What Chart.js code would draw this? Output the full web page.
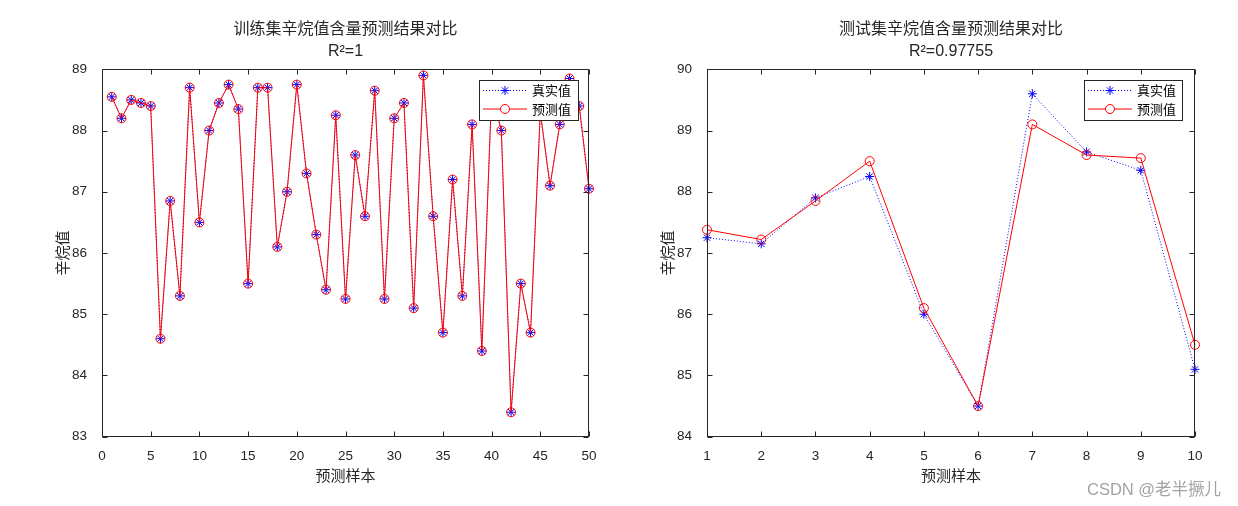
<!DOCTYPE html>
<html><head><meta charset="utf-8">
<script src="https://cdn.jsdelivr.net/npm/chart.js@4"></script>
<style>
html,body{margin:0;padding:0;background:#fff;}
#wrap{position:relative;width:1238px;height:506px;overflow:hidden;background:#fff;}
.box{position:absolute;top:0;width:619px;height:506px;}
</style></head><body>
<div id="wrap">
<div class="box" style="left:0"><canvas id="c1" width="619" height="506"></canvas></div>
<div class="box" style="left:619px"><canvas id="c2" width="619" height="506"></canvas></div>
</div>
<script>
// ---- data ----
const trainIdx = [1,2,3,4,5,6,7,8,9,10,11,12,13,14,15,16,17,18,19,20,21,22,23,24,25,26,27,28,29,30,31,32,33,34,35,36,37,38,39,40,41,42,43,44,45,46,47,48,49,50];
const trainTrue = [88.55,88.2,88.5,88.45,88.4,84.6,86.85,85.3,88.7,86.5,88.0,88.45,88.75,88.35,85.5,88.7,88.7,86.1,87.0,88.75,87.3,86.3,85.4,88.25,85.25,87.6,86.6,88.65,85.25,88.2,88.45,85.1,88.9,86.6,84.7,87.2,85.3,88.1,84.4,88.6,88.0,83.4,85.5,84.7,88.3,87.1,88.1,88.85,88.4,87.05];
const trainPred = [88.55,88.2,88.5,88.45,88.4,84.6,86.85,85.3,88.7,86.5,88.0,88.45,88.75,88.35,85.5,88.7,88.7,86.1,87.0,88.75,87.3,86.3,85.4,88.25,85.25,87.6,86.6,88.65,85.25,88.2,88.45,85.1,88.9,86.6,84.7,87.2,85.3,88.1,84.4,88.6,88.0,83.4,85.5,84.7,88.3,87.1,88.1,88.85,88.4,87.05];
const testIdx = [1,2,3,4,5,6,7,8,9,10];
const testTrue = [87.25,87.15,87.9,88.25,86.0,84.5,89.6,88.65,88.35,85.1];
const testPred = [87.38,87.22,87.85,88.5,86.1,84.5,89.1,88.6,88.55,85.5];
const seriesNames = ['真实值','预测值'];
const trainTitle = ['训练集辛烷值含量预测结果对比','R²=1'];
const testTitle = ['测试集辛烷值含量预测结果对比','R²=0.97755'];
const xLabel = '预测样本';
const yLabel = '辛烷值';
const watermark = 'CSDN @老半撅儿';

const FONT = "'Liberation Sans','Noto Sans CJK SC',sans-serif";
const AX = '#262626';
Chart.defaults.font.family = FONT;
Chart.defaults.color = AX;

function drawStar(ctx, x, y, r){
  const d = r*Math.SQRT1_2;
  ctx.beginPath();
  ctx.moveTo(x, y-r); ctx.lineTo(x, y+r);
  ctx.moveTo(x-r, y); ctx.lineTo(x+r, y);
  ctx.moveTo(x-d, y-d); ctx.lineTo(x+d, y+d);
  ctx.moveTo(x-d, y+d); ctx.lineTo(x+d, y-d);
  ctx.stroke();
}

const matlabAxes = {
  id: 'matlabAxes',
  afterDatasetsDraw(chart, args, opts){
    const {ctx, chartArea: a} = chart;
    const xs = chart.scales.x, ys = chart.scales.y;
    ctx.save();
    ctx.strokeStyle = AX; ctx.lineWidth = 1; ctx.setLineDash([]);
    const L = Math.round(a.left)+0.5, R = Math.round(a.right)-0.5, T = Math.round(a.top)+0.5, B = Math.round(a.bottom)-0.5;
    ctx.beginPath();
    xs.ticks.forEach(t => {
      const p = Math.round(xs.getPixelForValue(t.value))+0.5;
      ctx.moveTo(p, B); ctx.lineTo(p, B-5);
      ctx.moveTo(p, T); ctx.lineTo(p, T+5);
    });
    ys.ticks.forEach(t => {
      const p = Math.round(ys.getPixelForValue(t.value))+0.5;
      ctx.moveTo(L, p); ctx.lineTo(L+5, p);
      ctx.moveTo(R, p); ctx.lineTo(R-5, p);
    });
    ctx.stroke();
    ctx.strokeRect(L, T, R-L, B-T);
    // legend
    const lg = opts.legend;
    ctx.fillStyle = '#fff';
    ctx.fillRect(lg.x, lg.y, lg.w, lg.h);
    ctx.strokeStyle = AX;
    ctx.strokeRect(lg.x+0.5, lg.y+0.5, lg.w, lg.h);
    const rows = [lg.y+10.5, lg.y+29];
    ctx.strokeStyle = '#0000ff';
    ctx.setLineDash([1,2]);
    ctx.beginPath(); ctx.moveTo(lg.x+4, rows[0]); ctx.lineTo(lg.x+48, rows[0]); ctx.stroke();
    ctx.setLineDash([]);
    drawStar(ctx, lg.x+26, rows[0], 4.5);
    ctx.strokeStyle = '#ff0000';
    ctx.beginPath(); ctx.moveTo(lg.x+4, rows[1]); ctx.lineTo(lg.x+48, rows[1]); ctx.stroke();
    ctx.fillStyle = '#fff';
    ctx.beginPath(); ctx.arc(lg.x+26, rows[1], 4.5, 0, Math.PI*2); ctx.fill(); ctx.stroke();
    ctx.fillStyle = '#000';
    ctx.font = "13px 'Noto Sans CJK SC', " + FONT;
    ctx.textAlign = 'left'; ctx.textBaseline = 'middle';
    ctx.fillText(seriesNames[0], lg.x+53, rows[0]);
    ctx.fillText(seriesNames[1], lg.x+53, rows[1]);
    if (opts.watermark){
      ctx.fillStyle = '#a3a3a3';
      ctx.font = "16.5px " + FONT;
      ctx.fillText(opts.watermark.text, opts.watermark.x, opts.watermark.y);
    }
    ctx.restore();
  }
};

function makeChart(id, idx, tv, pv, xr, yr, title, yWidth, padRight, yTitlePad, legend, wm){
  return new Chart(document.getElementById(id), {
    type: 'line',
    data: {
      datasets: [
        { label: seriesNames[0], data: idx.map((v,i)=>({x:v, y:tv[i]})),
          borderColor:'#0000ff', borderWidth:1, borderDash:[1,2],
          pointStyle:'star', pointRadius:4.5, pointBorderWidth:1,
          pointBorderColor:'#0000ff', pointBackgroundColor:'#0000ff',
          fill:false, tension:0, clip:false, order:2 },
        { label: seriesNames[1], data: idx.map((v,i)=>({x:v, y:pv[i]})),
          borderColor:'#ff0000', borderWidth:1,
          pointStyle:'circle', pointRadius:4.5, pointBorderWidth:1,
          pointBorderColor:'#ff0000', pointBackgroundColor:'rgba(0,0,0,0)',
          fill:false, tension:0, clip:false, order:1 }
      ]
    },
    options: {
      responsive:false, animation:false, devicePixelRatio:1, events:[],
      layout:{ padding:{left:0, right:padRight, top:0, bottom:0} },
      plugins:{
        legend:{display:false}, tooltip:{enabled:false},
        title:{ display:true, text:title, fullSize:false, color:AX,
          font:{size:16, weight:'normal', lineHeight:1.4},
          padding:{top:18, bottom:6.5} },
        matlabAxes:{ legend:legend, watermark:wm }
      },
      scales:{
        x:{ type:'linear', min:xr[0], max:xr[1],
          ticks:{ stepSize:xr[2], color:AX, font:{size:13.5}, padding:3, maxRotation:0, autoSkip:false },
          grid:{display:false}, border:{display:false},
          title:{ display:true, text:xLabel, color:AX, font:{size:15, lineHeight:1.2}, padding:{top:0, bottom:20.5} },
          afterFit: s => { s.height = 69.3; } },
        y:{ type:'linear', min:yr[0], max:yr[1],
          ticks:{ stepSize:1, color:AX, font:{size:13.5}, padding:7 },
          grid:{display:false}, border:{display:false},
          title:{ display:true, text:yLabel, color:AX, font:{size:15, lineHeight:1.2}, padding:{top:yTitlePad, bottom:0} },
          afterFit: s => { s.width = yWidth; } }
      }
    },
    plugins:[matlabAxes]
  });
}

makeChart('c1', trainIdx, trainTrue, trainPred, [0,50,5], [83,89], trainTitle,
  102, 30, 54.5, {x:479, y:80, w:99, h:40}, null);
makeChart('c2', testIdx, testTrue, testPred, [1,10,1], [84,90], testTitle,
  88, 43, 40.5, {x:465, y:80, w:98, h:40}, {text:watermark, x:1087-619, y:490});
</script>
</body></html>
